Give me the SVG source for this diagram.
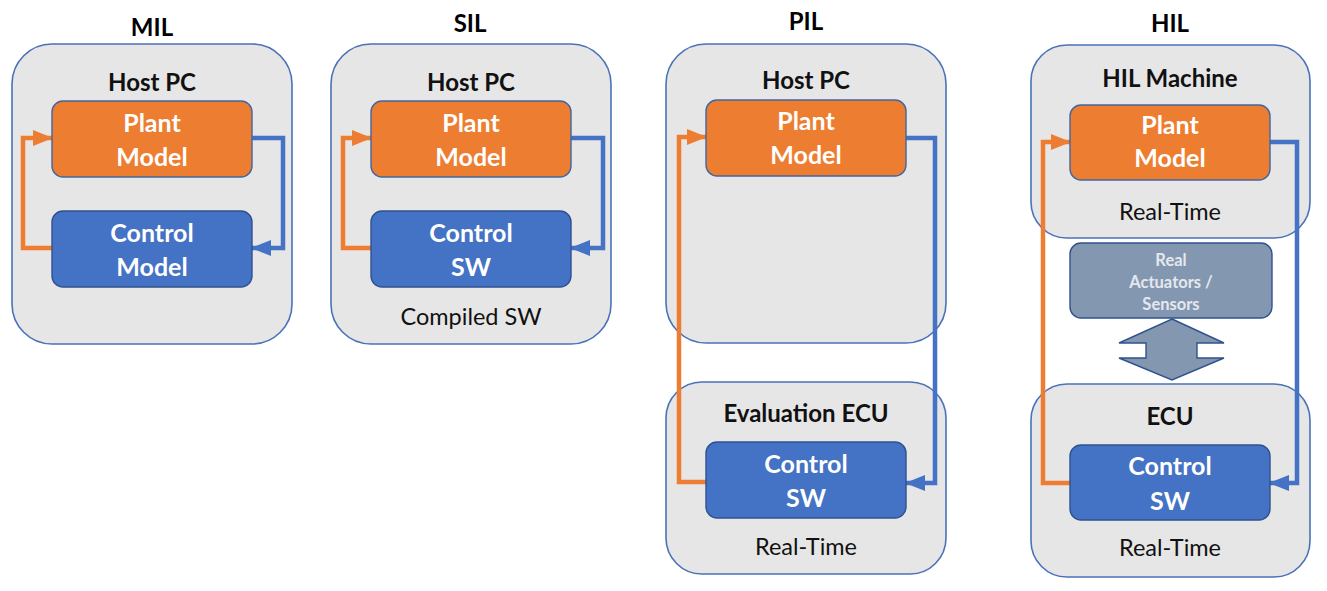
<svg xmlns="http://www.w3.org/2000/svg" width="1327" height="591" viewBox="0 0 1327 591">
<style>
.bg{fill:#ffffff}
.outer{fill:#e7e6e6;stroke:#4a72b8;stroke-width:1.6}
.plant{fill:#ed7d31;stroke:#41669f;stroke-width:1.4}
.ctrl{fill:#4472c4;stroke:#2f528f;stroke-width:1.4}
.act{fill:#8497b0;stroke:#2f528f;stroke-width:1.4}
.t{font-family:Lato,"Liberation Sans",sans-serif;text-anchor:middle}
.title{font-size:24px;font-weight:bold;fill:#000}
.hdr{font-size:24px;font-weight:bold;fill:#111}
.in{font-size:25px;font-weight:bold;fill:#ffffff}
.note{font-size:23.5px;fill:#111}
.small{font-size:16.5px;font-weight:bold;fill:#e4e8ee}
.co{fill:none;stroke:#ed7d31;stroke-width:4.5}
.cb{fill:none;stroke:#4472c4;stroke-width:4.5}
</style>
<defs>
<marker id="ao" markerUnits="userSpaceOnUse" markerWidth="20" markerHeight="16" refX="19" refY="8" orient="auto"><path d="M0,0 L20,8 L0,16 z" fill="#ed7d31"/></marker>
<marker id="ab" markerUnits="userSpaceOnUse" markerWidth="20" markerHeight="16" refX="19" refY="8" orient="auto"><path d="M0,0 L20,8 L0,16 z" fill="#4472c4"/></marker>
</defs>
<rect class="bg" x="0" y="0" width="1327" height="591"/>

<g id="mil">
<text class="t title" x="152" y="36">MIL</text>
<rect class="outer" x="12" y="44" width="280" height="300" rx="40"/>
<text class="t hdr" x="152" y="91">Host PC</text>
</g>
<g id="sil">
<text class="t title" x="470" y="32">SIL</text>
<rect class="outer" x="331" y="44" width="280" height="300" rx="40"/>
<text class="t hdr" x="471" y="91">Host PC</text>
<text class="t note" x="471" y="325">Compiled SW</text>
</g>
<g id="pil">
<text class="t title" x="806" y="30">PIL</text>
<rect class="outer" x="666" y="44" width="280" height="299" rx="40"/>
<text class="t hdr" x="806" y="89">Host PC</text>
</g>
<g id="pil-ecu">
<rect class="outer" x="666" y="382" width="280" height="192" rx="36"/>
<text class="t hdr" x="806" y="422">Evaluation ECU</text>
<text class="t note" x="806" y="555">Real-Time</text>
</g>
<g id="hil">
<text class="t title" x="1170" y="32">HIL</text>
<rect class="outer" x="1031" y="45" width="279" height="193" rx="36"/>
<text class="t hdr" x="1170" y="87">HIL Machine</text>
<text class="t note" x="1170" y="220">Real-Time</text>
</g>
<g id="hil-ecu">
<rect class="outer" x="1031" y="384" width="279" height="193" rx="36"/>
<text class="t hdr" x="1170" y="425">ECU</text>
<text class="t note" x="1170" y="556">Real-Time</text>
</g>

<g id="connectors">
<path class="co" d="M52 248 H23 V138 H52" marker-end="url(#ao)"/>
<path class="cb" d="M252 138 H283 V248 H252" marker-end="url(#ab)"/>
<path class="co" d="M371 248 H343 V138 H371" marker-end="url(#ao)"/>
<path class="cb" d="M571 138 H603 V248 H571" marker-end="url(#ab)"/>
<path class="co" d="M706 482 H679 V137 H706" marker-end="url(#ao)"/>
<path class="cb" d="M906 138 H935 V483 H906" marker-end="url(#ab)"/>
<path class="co" d="M1070 483 H1043 V142 H1070" marker-end="url(#ao)"/>
<path class="cb" d="M1270 142 H1297 V483 H1270" marker-end="url(#ab)"/>
</g>

<g id="mil-plant">
<rect class="plant" x="52" y="101" width="200" height="76" rx="11"/>
<text class="t in" x="152" y="132">Plant</text>
<text class="t in" x="152" y="166">Model</text>
</g>
<g id="mil-control">
<rect class="ctrl" x="52" y="211" width="200" height="76" rx="11"/>
<text class="t in" x="152" y="242">Control</text>
<text class="t in" x="152" y="276">Model</text>
</g>
<g id="sil-plant">
<rect class="plant" x="371" y="101" width="200" height="76" rx="11"/>
<text class="t in" x="471" y="132">Plant</text>
<text class="t in" x="471" y="166">Model</text>
</g>
<g id="sil-control">
<rect class="ctrl" x="371" y="211" width="200" height="76" rx="11"/>
<text class="t in" x="471" y="242">Control</text>
<text class="t in" x="471" y="276">SW</text>
</g>
<g id="pil-plant">
<rect class="plant" x="706" y="100" width="200" height="76" rx="11"/>
<text class="t in" x="806" y="130">Plant</text>
<text class="t in" x="806" y="164">Model</text>
</g>
<g id="pil-control">
<rect class="ctrl" x="706" y="442" width="200" height="76" rx="11"/>
<text class="t in" x="806" y="473">Control</text>
<text class="t in" x="806" y="507">SW</text>
</g>
<g id="hil-plant">
<rect class="plant" x="1070" y="105" width="200" height="75" rx="11"/>
<text class="t in" x="1170" y="134">Plant</text>
<text class="t in" x="1170" y="167">Model</text>
</g>
<g id="hil-actuators">
<rect class="act" x="1070" y="243" width="202" height="75" rx="11"/>
<text class="t small" x="1171" y="266">Real</text>
<text class="t small" x="1171" y="288">Actuators /</text>
<text class="t small" x="1171" y="310">Sensors</text>
</g>
<g id="hil-double-arrow">
<path class="act" d="M1172 319 L1224 343 H1197 V358 H1224 L1172 380 L1119 358 H1146 V343 H1119 Z"/>
</g>
<g id="hil-control">
<rect class="ctrl" x="1070" y="445" width="200" height="75" rx="11"/>
<text class="t in" x="1170" y="475">Control</text>
<text class="t in" x="1170" y="510">SW</text>
</g>
</svg>
